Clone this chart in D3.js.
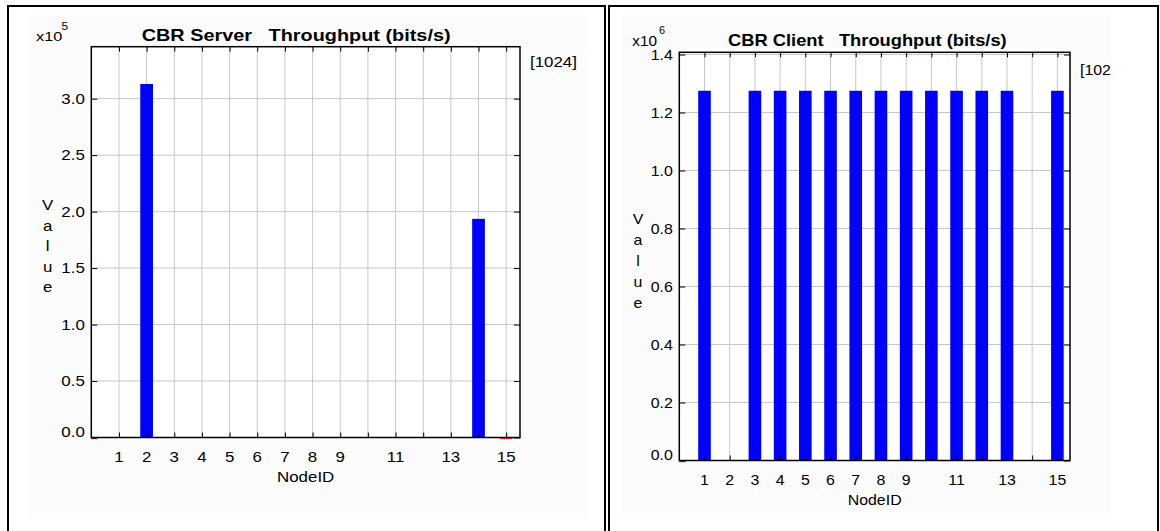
<!DOCTYPE html>
<html>
<head>
<meta charset="utf-8">
<script src="https://cdn.jsdelivr.net/npm/d3@7"></script>
<style>
  html, body { margin: 0; padding: 0; background: #ffffff; }
  svg { display: block; }
  text { font-family: "Liberation Sans", Arial, Helvetica, sans-serif; fill: #000; }
</style>
</head>
<body>
<svg id="chart" width="1160" height="531"></svg>
<script>
// ---- data -------------------------------------------------------------
// Node IDs that carry a value, and the throughput measured at each (bits/s)
const serverNodes  = [0, 2, 14, 15];
const serverValues = [0, 313000, 193600, 0];

const clientNodes  = [0, 1, 3, 4, 5, 6, 7, 8, 9, 10, 11, 12, 13, 15];
const clientValues = [0, 1275000, 1275000, 1275000, 1275000, 1275000, 1275000,
                      1275000, 1275000, 1275000, 1275000, 1275000, 1275000, 1275000];

// Tick positions and labels
const xTickNodes    = [1, 2, 3, 4, 5, 6, 7, 8, 9, 10, 11, 12, 13, 14, 15];
const xTickLabels   = [1, 2, 3, 4, 5, 6, 7, 8, 9, 11, 13, 15];
const serverYTicks  = [0, 0.5, 1.0, 1.5, 2.0, 2.5, 3.0];      // x10^5
const clientYTicks  = [0, 0.2, 0.4, 0.6, 0.8, 1.0, 1.2, 1.4]; // x10^6

const svg = d3.select("#chart");

// ---- panel frames -------------------------------------------------------
svg.append("rect").attr("x", 8).attr("y", 6).attr("width", 597).attr("height", 560)
  .attr("fill", "none").attr("stroke", "#000").attr("stroke-width", 2);
svg.append("rect").attr("x", 609).attr("y", 6).attr("width", 549).attr("height", 560)
  .attr("fill", "none").attr("stroke", "#000").attr("stroke-width", 2);

// writes a horizontally stretched text
function sText(g, str, x, y, size, sx, anchor, weight) {
  return g.append("text")
    .attr("transform", `translate(${x},${y}) scale(${sx},1)`)
    .attr("text-anchor", anchor || "start")
    .style("font-size", size + "px")
    .style("font-weight", weight || "normal")
    .text(str);
}

function drawChart(cfg) {
  const g = svg.append("g");
  const clipId = cfg.id + "-clip";
  const plotClip = cfg.id + "-plot";
  const defs = svg.append("defs");
  defs.append("clipPath").attr("id", clipId).append("rect")
    .attr("x", cfg.inner[0]).attr("y", cfg.inner[1])
    .attr("width", cfg.inner[2] - cfg.inner[0]).attr("height", cfg.inner[3] - cfg.inner[1]);
  defs.append("clipPath").attr("id", plotClip).append("rect")
    .attr("x", cfg.left).attr("y", cfg.top)
    .attr("width", cfg.right - cfg.left).attr("height", cfg.bottom - cfg.top + 3);

  const c = g.append("g").attr("clip-path", `url(#${clipId})`);
  c.append("rect")
    .attr("x", cfg.inner[0]).attr("y", cfg.inner[1])
    .attr("width", cfg.inner[2] - cfg.inner[0]).attr("height", cfg.inner[3] - cfg.inner[1])
    .attr("fill", "#fcfcfc");

  const x = d3.scaleLinear().domain([0, 15.5]).range([cfg.left, cfg.right]);
  const y = d3.scaleLinear().domain([0, cfg.yMax]).range([cfg.bottom, cfg.top]);

  c.append("rect").attr("x", cfg.left).attr("y", cfg.top)
    .attr("width", cfg.right - cfg.left).attr("height", cfg.bottom - cfg.top)
    .attr("fill", "#ffffff");

  // grid
  const grid = c.append("g").attr("stroke", "#c8c8c8").attr("stroke-width", 1);
  grid.selectAll("line.v").data(xTickNodes).join("line").attr("class", "v")
    .attr("x1", d => x(d)).attr("x2", d => x(d))
    .attr("y1", cfg.top).attr("y2", cfg.bottom);
  grid.selectAll("line.h").data(cfg.yTicks).join("line").attr("class", "h")
    .attr("x1", cfg.left).attr("x2", cfg.right)
    .attr("y1", d => y(d * cfg.unit)).attr("y2", d => y(d * cfg.unit));

  // bars
  const data = cfg.nodes.map((n, i) => ({ node: n, value: cfg.values[i] }));
  const bars = c.append("g").attr("clip-path", `url(#${plotClip})`);
  bars.selectAll("rect.bar").data(data.filter(d => d.value > 0)).join("rect")
    .attr("class", "bar")
    .attr("x", d => x(d.node - cfg.barW / 2))
    .attr("width", d => x(d.node + cfg.barW / 2) - x(d.node - cfg.barW / 2))
    .attr("y", d => y(d.value))
    .attr("height", d => y(0) - y(d.value))
    .attr("fill", "#0000ff");

  // axes: ticks point inwards on all four sides
  const tickStyle = s => {
    s.select(".domain").remove();
    s.selectAll(".tick line").attr("stroke", "#000");
    s.selectAll(".tick text").remove();
  };
  c.append("g").attr("transform", `translate(0,${cfg.bottom})`)
    .call(d3.axisBottom(x).tickValues(xTickNodes).tickSize(-5).tickSizeOuter(0)).call(tickStyle);
  c.append("g").attr("transform", `translate(0,${cfg.top})`)
    .call(d3.axisTop(x).tickValues(xTickNodes).tickSize(-5).tickSizeOuter(0)).call(tickStyle);
  const yAxisTicks = cfg.yTicks.map(v => v * cfg.unit);
  c.append("g").attr("transform", `translate(${cfg.left},0)`)
    .call(d3.axisLeft(y).tickValues(yAxisTicks).tickSize(-6).tickSizeOuter(0)).call(tickStyle);
  c.append("g").attr("transform", `translate(${cfg.right},0)`)
    .call(d3.axisRight(y).tickValues(yAxisTicks).tickSize(-6).tickSizeOuter(0)).call(tickStyle);

  // plot box
  c.append("rect").attr("x", cfg.left).attr("y", cfg.top)
    .attr("width", cfg.right - cfg.left).attr("height", cfg.bottom - cfg.top)
    .attr("fill", "none").attr("stroke", "#000").attr("stroke-width", 1.5);

  // zero-valued entries are marked in red on the baseline
  bars.selectAll("rect.zero").data(data.filter(d => d.value === 0)).join("rect")
    .attr("class", "zero")
    .attr("x", d => x(d.node - cfg.barW / 2))
    .attr("width", d => x(d.node + cfg.barW / 2) - x(d.node - cfg.barW / 2))
    .attr("y", y(0) + 0.2).attr("height", 1.5)
    .attr("fill", "#ff3030");

  // tick labels
  xTickLabels.forEach(n => sText(c, n, x(n), cfg.bottom + cfg.xLabDy, cfg.fs, cfg.sx, "middle"));
  cfg.yTicks.forEach((v, i) => {
    const dy = i === 0 ? cfg.zeroDy : cfg.yLabDy;
    sText(c, v.toFixed(1), cfg.left - 6.5, y(v * cfg.unit) + dy, cfg.fs, cfg.sx, "end");
  });

  // titles and annotations
  c.append("text").attr("x", cfg.titleX[0]).attr("y", cfg.titleY)
    .attr("textLength", cfg.titleX[1] - cfg.titleX[0]).attr("lengthAdjust", "spacingAndGlyphs")
    .style("font-size", cfg.titleFs + "px").style("font-weight", "bold")
    .style("white-space", "pre")
    .text(cfg.title);
  sText(c, "x10", cfg.expX, cfg.expY, cfg.fs - 0.5, cfg.sx);
  sText(c, cfg.exp, cfg.expX + cfg.supDx, cfg.expY - cfg.supDy, 10, cfg.sx);
  sText(c, "[1024]", cfg.tagX, cfg.tagY, cfg.fs, cfg.sx);
  sText(c, "NodeID", (cfg.left + cfg.right) / 2, cfg.bottom + cfg.nodeDy, cfg.fs, cfg.sx, "middle");
  "Value".split("").forEach((ch, i) =>
    sText(c, ch, cfg.valueX, cfg.valueY + i * cfg.valueStep, cfg.fs, cfg.sx, "middle"));
}

drawChart({
  id: "server", title: "CBR Server   Throughput (bits/s)",
  nodes: serverNodes, values: serverValues, yTicks: serverYTicks, unit: 1e5, exp: "5",
  yMax: 346000, left: 91.3, right: 520, top: 46.7, bottom: 437.5,
  inner: [28, 15, 587, 518], barW: 0.46,
  fs: 14.2, sx: 1.19, xLabDy: 24.8, yLabDy: 5, zeroDy: -0.2, nodeDy: 44.8,
  titleX: [141.7, 450.6], titleY: 40.7, titleFs: 16.5,
  expX: 36, expY: 40.9, supDx: 25.5, supDy: 10.7,
  tagX: 530, tagY: 66.9,
  valueX: 47.7, valueY: 210.3, valueStep: 20.5
});

drawChart({
  id: "client", title: "CBR Client   Throughput (bits/s)",
  nodes: clientNodes, values: clientValues, yTicks: clientYTicks, unit: 1e6, exp: "6",
  yMax: 1407600, left: 679.3, right: 1070, top: 52.3, bottom: 460.5,
  inner: [622, 15, 1111, 518], barW: 0.5,
  fs: 14.6, sx: 1.09, xLabDy: 24.2, yLabDy: 5.2, zeroDy: -0.3, nodeDy: 44.8,
  titleX: [728, 1006.7], titleY: 45.6, titleFs: 17,
  expX: 632.3, expY: 45.9, supDx: 26.6, supDy: 12.4,
  tagX: 1080, tagY: 75.2,
  valueX: 638, valueY: 223.5, valueStep: 21
});
</script>
</body>
</html>
